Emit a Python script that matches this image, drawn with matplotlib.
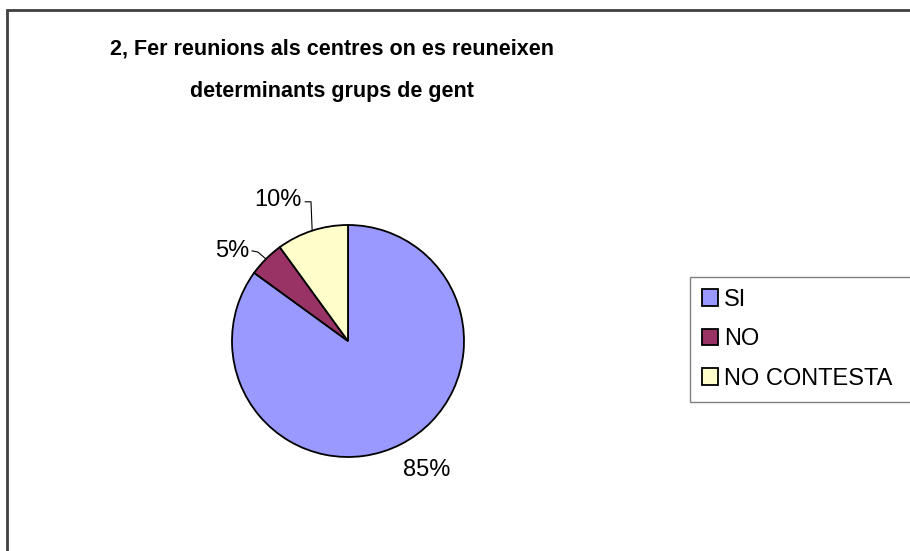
import numpy as np
import matplotlib
matplotlib.use("Agg")
import matplotlib.pyplot as plt
from matplotlib.patches import Rectangle

plt.rcParams["font.family"] = ["Liberation Sans", "DejaVu Sans"]

categories = ["SI", "NO", "NO CONTESTA"]
values = [85, 5, 10]
colors = ["#9999FF", "#993366", "#FFFFCC"]
title_lines = ["2, Fer reunions als centres on es reuneixen",
               "determinants grups de gent"]

W, H = 910, 551
fig = plt.figure(figsize=(W / 100, H / 100), dpi=100)

# outer chart frame (right and bottom edges fall outside the picture)
fig.add_artist(Rectangle((7 / W, -0.1), 2, 1 - 10 / H + 0.1,
                         transform=fig.transFigure, fill=False,
                         edgecolor="#404040", lw=2, clip_on=False))

# title
for k, line in enumerate(title_lines):
    fig.text(332 / W, 1 - (49 + 42 * k) / H, line, ha="center", va="center",
             fontsize=15.5, fontweight="bold")

# pie
cx, cy, r = 348, 341, 116
ax = fig.add_axes([(cx - r) / W, (H - cy - r) / H, 2 * r / W, 2 * r / H])
wedges, _ = ax.pie(values, colors=colors, startangle=90, counterclock=False,
                   radius=1, wedgeprops=dict(edgecolor="black", linewidth=1.3))
ax.set_xlim(-1, 1)
ax.set_ylim(-1, 1)
ax.set_aspect("equal")
ax.axis("off")

total = sum(values)
start = 90
for i, v in enumerate(values):
    mid = np.deg2rad(start - v / total * 180)
    start -= v / total * 360
    ex, ey = np.cos(mid), np.sin(mid)
    txt = f"{v / total * 100:.0f}%"
    if i == 0:
        ax.text(1.3 * ex + 0.09, 1.3 * ey + 0.05, txt, ha="center", va="center",
                fontsize=17, clip_on=False)
    elif i == 1:
        kx, ky = ex - 0.07, ey + 0.06
        ax.plot([ex, kx, kx - 0.05], [ey, ky, ky + 0.01], color="black",
                lw=0.8, clip_on=False)
        ax.text(kx - 0.07, ky + 0.01, txt, ha="right", va="center",
                fontsize=17, clip_on=False)
    else:
        ky = 1.2
        ax.plot([ex, ex - 0.01, ex - 0.06], [ey, ky, ky], color="black",
                lw=0.8, clip_on=False)
        ax.text(ex - 0.09, ky + 0.015, txt, ha="right", va="center",
                fontsize=17, clip_on=False)

# legend box reaching past the right edge
leg = fig.legend(wedges, categories, loc="upper left",
                 bbox_to_anchor=(690 / W, 1 - 406 / H, 300 / W, 129 / H),
                 mode="expand", fontsize=17, frameon=True, fancybox=False,
                 edgecolor="#808080", framealpha=1, borderaxespad=0,
                 handlelength=0.7, handleheight=0.7, handletextpad=0.25,
                 labelspacing=0.74, borderpad=0.5)
leg.get_frame().set_linewidth(1.0)

fig.savefig("out.png", dpi=100)
